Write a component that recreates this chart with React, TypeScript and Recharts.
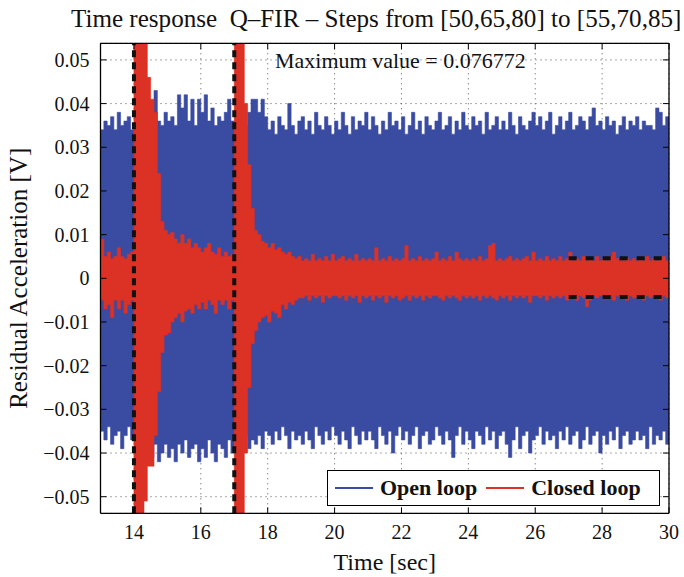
import React from 'react';
import { ComposedChart, Area, XAxis, YAxis, CartesianGrid, ReferenceLine, Legend } from 'recharts';

const SERIF = '"Liberation Serif", "Times New Roman", Times, serif';
const BLUE = '#3a4ba2';
const RED = '#dc3125';

// ---------- data ----------
const TITLE = 'Time response  Q\u2013FIR \u2013 Steps from [50,65,80] to [55,70,85]';
const X_LABEL = 'Time [sec]';
const Y_LABEL = 'Residual Acceleration [V]';
const MAX_VALUE = 0.076772;
const SERIES_NAMES = ['Open loop', 'Closed loop'];

const T_START = 13;
const T_STEP = 0.1;
const X_DOMAIN = [13, 30];
const Y_LIMIT = 0.0538;
const xTicks = [14, 16, 18, 20, 22, 24, 26, 28, 30];
const yTicks = [-0.05, -0.04, -0.03, -0.02, -0.01, 0, 0.01, 0.02, 0.03, 0.04, 0.05];
const stepTimes = [14, 17];
const zoomWindow = { t0: 27, t1: 30, hi: 0.0046, lo: -0.0043 };

// envelopes in mV, one value per 0.1 s from 13.0 s to 30.0 s
const openHi_mV = [
  34, 36, 35, 37, 34, 38, 35, 36, 37, 34,
  33, 37, 35, 36, 38, 35, 43, 36, 35, 38,
  36, 37, 35, 42, 39, 42, 36, 41, 35, 41,
  38, 42, 36, 39, 35, 37, 36, 38, 41, 36,
  35, 34, 37, 35, 38, 41, 41, 38, 41, 37,
  34, 36, 33, 37, 35, 34, 40, 35, 33, 36,
  37, 34, 36, 33, 38, 35, 34, 37, 35, 33,
  36, 34, 38, 35, 33, 37, 34, 36, 35, 38,
  34, 37, 35, 33, 36, 34, 38, 35, 36, 34,
  37, 33, 35, 38, 34, 36, 33, 37, 35, 34,
  36, 38, 34, 35, 37, 33, 36, 34, 38, 35,
  34, 37, 35, 36, 33, 38, 34, 35, 37, 34,
  36, 34, 38, 35, 33, 37, 35, 34, 36, 38,
  35, 37, 34, 36, 38, 33, 35, 37, 34, 36,
  38, 34, 35, 37, 36, 34, 37, 39, 35, 36,
  34, 37, 35, 36, 33, 35, 37, 34, 36, 35,
  37, 34, 36, 35, 35, 34, 39, 38, 35, 37,
  35,
];

const openLo_mV = [
  -35, -37, -34, -38, -36, -35, -39, -36, -34, -37,
  -36, -38, -35, -39, -37, -41, -38, -42, -40, -38,
  -41, -39, -42, -38, -40, -37, -41, -39, -38, -42,
  -39, -41, -37, -40, -42, -38, -39, -41, -37, -40,
  -37, -35, -38, -36, -39, -37, -38, -36, -39, -35,
  -36, -38, -35, -37, -34, -36, -39, -35, -37, -36,
  -38, -35, -37, -39, -34, -36, -38, -35, -37, -34,
  -36, -38, -35, -37, -39, -34, -36, -38, -35, -37,
  -35, -37, -39, -34, -36, -38, -35, -40, -36, -34,
  -37, -35, -38, -36, -34, -39, -36, -35, -38, -37,
  -34, -36, -38, -35, -37, -41, -36, -34, -38, -35,
  -37, -39, -35, -36, -38, -34, -37, -35, -39, -36,
  -35, -38, -41, -37, -34, -39, -36, -35, -40, -37,
  -36, -34, -38, -35, -37, -36, -39, -35, -37, -34,
  -38, -36, -35, -39, -37, -34, -38, -36, -35, -40,
  -36, -38, -35, -37, -34, -39, -36, -35, -38, -37,
  -35, -37, -36, -39, -34, -38, -36, -37, -35, -38,
  -36,
];

const closedHi_mV = [
  9, 5, 6, 4.5, 5, 7, 5, 4.5, 5.5, 6,
  60, 60, 60, 60, 46, 41, 38, 24, 13, 11,
  10, 10.5, 9, 8, 10, 8, 9, 7, 8, 7,
  6, 7, 8, 6, 5.5, 7, 5, 6, 5, 5.5,
  60, 60, 60, 40, 26, 16, 11, 10, 8.5, 8,
  7, 8, 6.5, 7, 6, 5.5, 6, 5, 4.5, 5,
  4, 4.5, 4, 5.5, 4, 4.5, 4, 5, 4, 5.5,
  4, 4.5, 5, 4, 4.5, 4, 5.5, 4, 4.5, 4,
  4.5, 4, 7, 4, 4.5, 4, 5, 4, 4.5, 4,
  4.5, 7.5, 4, 4.5, 4, 5, 4, 4.5, 4, 4.5,
  6, 4, 4.5, 4, 5, 4, 6, 4.5, 4, 4.5,
  4, 4.5, 4, 5, 4, 4.5, 7.5, 8, 4, 4.5,
  4, 4.5, 5, 4, 4.5, 4, 4.5, 5, 4, 6,
  4, 4.5, 4, 5, 4, 4.5, 4, 5, 4, 4.5,
  6, 4, 4.5, 4, 5, 4, 4.5, 4, 5, 4,
  4.5, 4, 5, 6, 4.5, 4, 4, 4.5, 4, 4.5,
  4, 4.5, 4, 5, 4, 4.5, 4, 4.5, 5, 4,
  4.5,
];

const closedLo_mV = [
  -5, -7, -6, -9, -5, -7, -5, -8, -6, -5,
  -60, -60, -60, -51, -43, -43, -36, -26, -17, -13,
  -12.5, -10, -9, -8, -10, -7.5, -7, -8, -6, -7,
  -5.5, -7, -5, -6, -8, -5, -6, -5, -7, -5,
  -60, -60, -60, -40, -25, -15, -12, -10, -9, -8.5,
  -10, -7.5, -8, -9, -6, -7, -5.5, -6, -5, -4.5,
  -4.5, -4, -5, -4, -4.5, -4, -5.5, -4, -4.5, -4,
  -4, -4.5, -4, -5, -4, -4.5, -4, -5.5, -4, -4.5,
  -4, -5, -4, -4.5, -4, -5.5, -4, -4.5, -4, -5,
  -4.5, -4, -5, -4, -4.5, -4, -5, -4, -4.5, -4,
  -4, -4.5, -5, -4, -4.5, -4, -4.5, -5, -4, -4.5,
  -4, -4.5, -4, -5, -4, -4.5, -4, -4.5, -5, -4,
  -4.5, -4, -5, -4, -4.5, -4, -4.5, -4, -5.5, -4,
  -4, -4.5, -4, -5, -4, -4.5, -4, -4.5, -4, -5,
  -4.5, -4, -5, -4, -4.5, -6.5, -5, -4, -4.5, -4,
  -4, -4.5, -4, -5, -4, -4.5, -4, -5, -4, -4.5,
  -4.5, -4, -5, -4, -4.5, -4, -4.5, -5, -4, -4.5,
  -4,
];

const rows = openHi_mV.map((_, i) => ({
  t: Math.round((T_START + i * T_STEP) * 10) / 10,
  open: [openLo_mV[i] / 1000, openHi_mV[i] / 1000],
  closed: [closedLo_mV[i] / 1000, closedHi_mV[i] / 1000],
}));

// ---------- layout (the chart is placed at the page's top-left corner) ----------
const W = 684;
const H = 577;
const M_TOP = 43.3;
const M_RIGHT = 15;
const Y_AXIS_W = 100.5;
const X_AXIS_H = 63.7;
const PLOT_LEFT = Y_AXIS_W;
const PLOT_RIGHT = W - M_RIGHT;
const PLOT_TOP = M_TOP;
const PLOT_BOTTOM = H - X_AXIS_H;
const TICK_LEN = 6;

const fmtY = (v: number) => (v === 0 ? '0' : (v < 0 ? '\u2212' : '') + Math.abs(v).toFixed(2));

const XTick = (props: any) => {
  const { x, payload } = props;
  return (
    <g>
      <line x1={x} x2={x} y1={PLOT_BOTTOM} y2={PLOT_BOTTOM - TICK_LEN} stroke="#000" strokeWidth={1} />
      <line x1={x} x2={x} y1={PLOT_TOP} y2={PLOT_TOP + TICK_LEN} stroke="#000" strokeWidth={1} />
      <text x={x} y={PLOT_BOTTOM + 19} dy="0.35em" textAnchor="middle" fontSize={20} fontFamily={SERIF} fill="#111">
        {payload.value}
      </text>
    </g>
  );
};

const YTick = (props: any) => {
  const { y, payload } = props;
  return (
    <g>
      <line x1={PLOT_LEFT} x2={PLOT_LEFT + TICK_LEN} y1={y} y2={y} stroke="#000" strokeWidth={1} />
      <line x1={PLOT_RIGHT - TICK_LEN} x2={PLOT_RIGHT} y1={y} y2={y} stroke="#000" strokeWidth={1} />
      <text x={PLOT_LEFT - 11} y={y} dy="0.35em" textAnchor="end" fontSize={20} fontFamily={SERIF} fill="#111">
        {fmtY(payload.value)}
      </text>
    </g>
  );
};

const LegendBox = (props: any) => {
  const items = [...(props.payload || [])].sort(
    (a: any, b: any) => SERIES_NAMES.indexOf(a.value) - SERIES_NAMES.indexOf(b.value)
  );
  return (
    <div
      style={{
        boxSizing: 'border-box',
        width: 333,
        height: 36,
        border: '1.5px solid #000',
        background: '#fff',
        display: 'flex',
        alignItems: 'center',
        paddingLeft: 7,
        fontFamily: SERIF,
        fontWeight: 'bold',
        fontSize: 22,
        color: '#111',
        whiteSpace: 'nowrap',
      }}
    >
      {items.map((it: any, i: number) => (
        <span key={i} style={{ display: 'flex', alignItems: 'center', marginRight: 9 }}>
          <span style={{ display: 'inline-block', width: 38, height: 0, borderTop: `2.5px solid ${it.color}`, marginRight: 7 }} />
          {it.value}
        </span>
      ))}
    </div>
  );
};

export default function App() {
  return (
    <div
      style={{
        position: 'absolute',
        left: 0,
        top: 0,
        width: W,
        height: H,
        overflow: 'hidden',
        fontFamily: SERIF,
        background: '#fff',
      }}
    >
      <ComposedChart
        width={W}
        height={H}
        data={rows}
        margin={{ top: M_TOP, right: M_RIGHT, bottom: 0, left: 0 }}
        style={{ fontFamily: SERIF }}
      >
        <CartesianGrid stroke="#555" strokeDasharray="1 4" />
        <XAxis
          dataKey="t"
          type="number"
          domain={X_DOMAIN}
          ticks={xTicks}
          interval={0}
          allowDataOverflow
          height={X_AXIS_H}
          tickSize={0}
          tickMargin={0}
          tickLine={false}
          axisLine={{ stroke: '#000', strokeWidth: 1.3 }}
          tick={<XTick />}
          label={{ value: X_LABEL, position: 'insideBottom', offset: 7, fill: '#111', fontSize: 24, fontFamily: SERIF }}
        />
        <YAxis
          type="number"
          domain={[-Y_LIMIT, Y_LIMIT]}
          ticks={yTicks}
          interval={0}
          allowDataOverflow
          width={Y_AXIS_W}
          tickSize={0}
          tickMargin={0}
          tickLine={false}
          axisLine={{ stroke: '#000', strokeWidth: 1.3 }}
          tick={<YTick />}
          label={{
            value: Y_LABEL,
            angle: -90,
            position: 'insideLeft',
            offset: 18,
            fill: '#111',
            fontSize: 25,
            fontFamily: SERIF,
            style: { textAnchor: 'middle' },
          }}
        />
        <Area
          type="stepAfter"
          dataKey="open"
          name={SERIES_NAMES[0]}
          stroke={BLUE}
          strokeWidth={0.6}
          fill={BLUE}
          fillOpacity={1}
          dot={false}
          activeDot={false}
          legendType="line"
          isAnimationActive={false}
        />
        <Area
          type="stepAfter"
          dataKey="closed"
          name={SERIES_NAMES[1]}
          stroke={RED}
          strokeWidth={0.6}
          fill={RED}
          fillOpacity={1}
          dot={false}
          activeDot={false}
          legendType="line"
          isAnimationActive={false}
        />
        {stepTimes.map((s) => (
          <ReferenceLine key={s} x={s} stroke="#111" strokeWidth={4} strokeDasharray="7 5" />
        ))}
        <ReferenceLine
          segment={[{ x: zoomWindow.t0, y: zoomWindow.hi }, { x: zoomWindow.t1, y: zoomWindow.hi }]}
          stroke="#111"
          strokeWidth={4}
          strokeDasharray="8 9"
        />
        <ReferenceLine
          segment={[{ x: zoomWindow.t0, y: zoomWindow.lo }, { x: zoomWindow.t1, y: zoomWindow.lo }]}
          stroke="#111"
          strokeWidth={4}
          strokeDasharray="8 9"
        />
        <ReferenceLine y={Y_LIMIT} stroke="#000" strokeWidth={1.3} />
        <ReferenceLine x={X_DOMAIN[1]} stroke="#000" strokeWidth={1.3} />
        <Legend
          layout="horizontal"
          verticalAlign="middle"
          align="center"
          content={<LegendBox />}
          wrapperStyle={{ left: 327, top: 470, width: 333, height: 36 }}
        />
      </ComposedChart>
      <div
        style={{
          position: 'absolute',
          left: 71,
          top: 6,
          fontSize: 25.1,
          lineHeight: 1,
          whiteSpace: 'pre',
          color: '#111',
          fontFamily: SERIF,
        }}
      >
        {TITLE}
      </div>
      <div
        style={{
          position: 'absolute',
          left: 275,
          top: 50,
          fontSize: 22,
          lineHeight: 1,
          whiteSpace: 'pre',
          color: '#111',
          fontFamily: SERIF,
        }}
      >
        {`Maximum value = ${MAX_VALUE}`}
      </div>
    </div>
  );
}
